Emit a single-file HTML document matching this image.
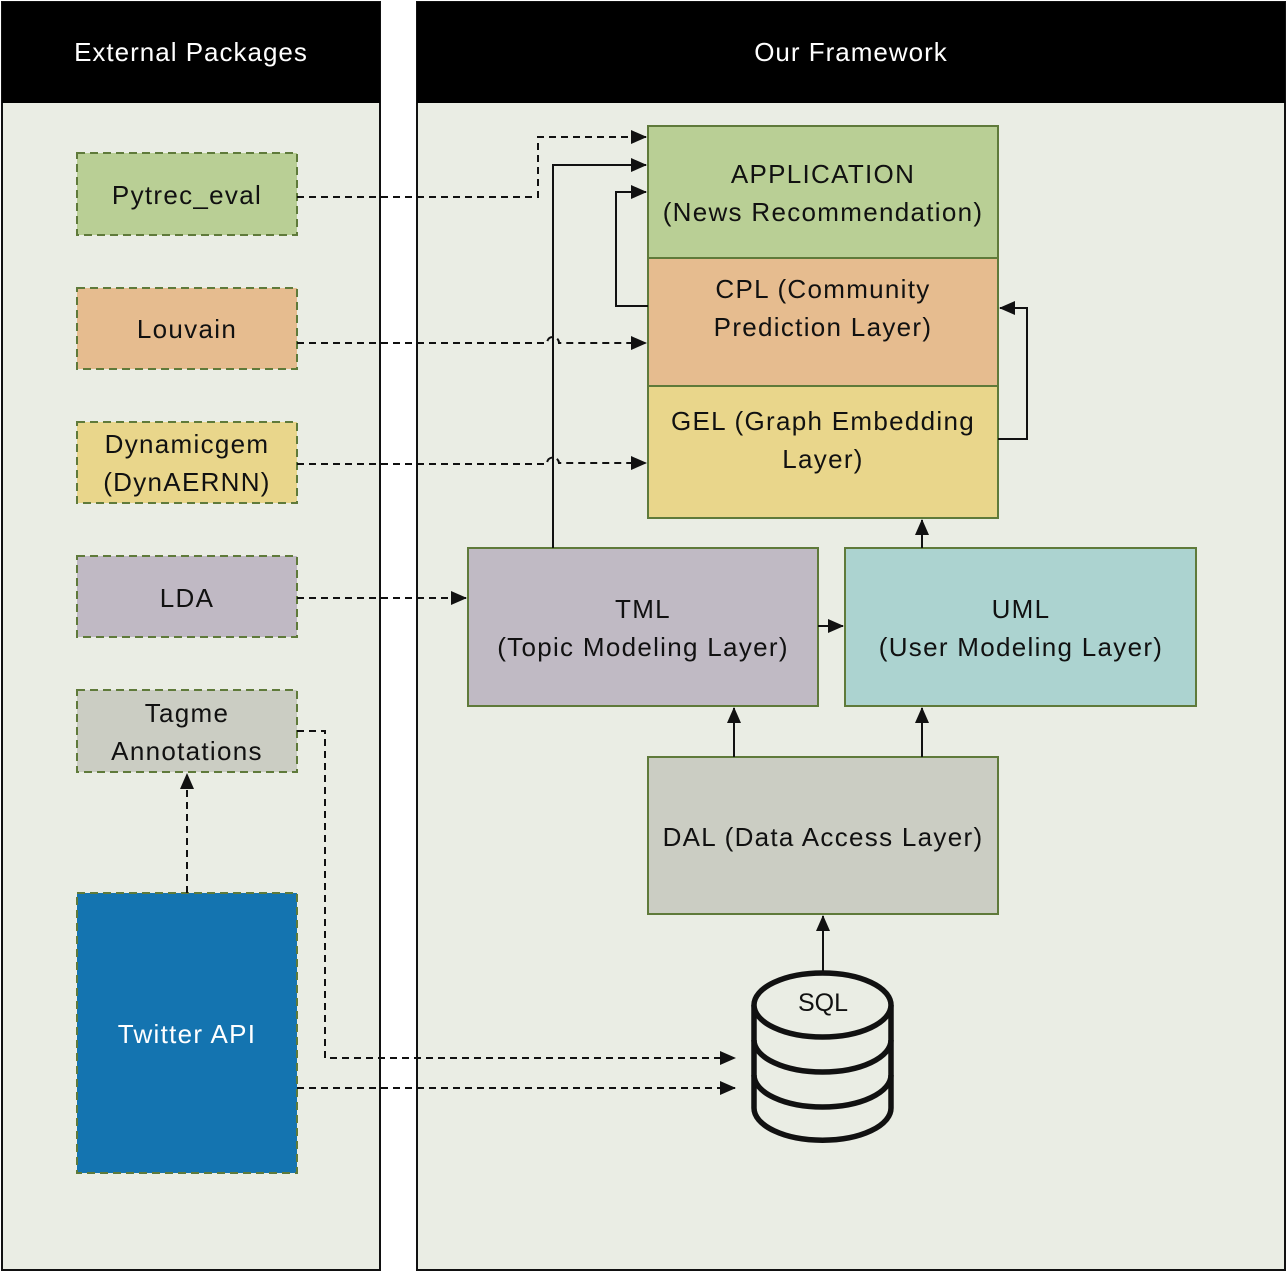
<!DOCTYPE html>
<html><head><meta charset="utf-8"><style>
html,body{margin:0;padding:0;background:#fff}
svg{display:block}
text{font-family:"Liberation Sans",sans-serif;fill:#111}
</style></head><body>
<svg width="1287" height="1272" viewBox="0 0 1287 1272" xmlns="http://www.w3.org/2000/svg">
<defs>
<marker id="b" markerWidth="16" markerHeight="14" refX="15" refY="7" orient="auto" markerUnits="userSpaceOnUse" viewBox="0 0 16 14"><path d="M0,0L16,7L0,14z" fill="#111"/></marker>
</defs>
<rect x="2" y="2" width="378" height="1268" fill="#eaede4" stroke="#111" stroke-width="2"/>
<rect x="2" y="2" width="378" height="101" fill="#000"/>
<rect x="417" y="2" width="868" height="1268" fill="#eaede4" stroke="#111" stroke-width="2"/>
<rect x="417" y="2" width="868" height="101" fill="#000"/>
<text x="191" y="61" text-anchor="middle" font-size="26" letter-spacing="1" style="fill:#fff">External Packages</text>
<text x="851" y="61" text-anchor="middle" font-size="26" letter-spacing="1" style="fill:#fff">Our Framework</text>

<g stroke="#5f7a3a" stroke-width="2" stroke-dasharray="8,5">
<rect x="77" y="153" width="220" height="82" fill="#b9cf95"/>
<rect x="77" y="288" width="220" height="81" fill="#e6bc8f"/>
<rect x="77" y="422" width="220" height="81" fill="#e9d68b"/>
<rect x="77" y="556" width="220" height="81" fill="#c0b9c4"/>
<rect x="77" y="690" width="220" height="82" fill="#cbcdc3"/>
<rect x="77" y="893" width="220" height="280" fill="#1474b0"/>
</g>
<g font-size="26" letter-spacing="1.3" text-anchor="middle">
<text x="187" y="204">Pytrec_eval</text>
<text x="187" y="338">Louvain</text>
<text x="187" y="453">Dynamicgem</text>
<text x="187" y="491">(DynAERNN)</text>
<text x="187" y="607">LDA</text>
<text x="187" y="722">Tagme</text>
<text x="187" y="760">Annotations</text>
<text x="187" y="1043" style="fill:#fff">Twitter API</text>
</g>

<g stroke="#5f7a3a" stroke-width="2">
<rect x="648" y="126" width="350" height="132" fill="#b9cf95"/>
<rect x="648" y="258" width="350" height="128" fill="#e6bc8f"/>
<rect x="648" y="386" width="350" height="132" fill="#e9d68b"/>
<rect x="468" y="548" width="350" height="158" fill="#c0bac4"/>
<rect x="845" y="548" width="351" height="158" fill="#acd3d0"/>
<rect x="648" y="757" width="350" height="157" fill="#cbcdc3"/>
</g>
<g font-size="26" letter-spacing="1.3" text-anchor="middle">
<text x="823" y="183">APPLICATION</text>
<text x="823" y="221">(News Recommendation)</text>
<text x="823" y="298">CPL (Community</text>
<text x="823" y="336">Prediction Layer)</text>
<text x="823" y="430">GEL (Graph Embedding</text>
<text x="823" y="468">Layer)</text>
<text x="643" y="618">TML</text>
<text x="643" y="656">(Topic Modeling Layer)</text>
<text x="1021" y="618">UML</text>
<text x="1021" y="656">(User Modeling Layer)</text>
<text x="823" y="846">DAL (Data Access Layer)</text>
</g>

<g fill="none" stroke="#111" stroke-width="2">
<g stroke-dasharray="7,5">
<path d="M297,197H538V137H646" marker-end="url(#b)"/>
<path d="M297,343H547A6,6 0 0 1 559,343H646" marker-end="url(#b)"/>
<path d="M297,464H547A6,6 0 0 1 559,463H646" marker-end="url(#b)"/>
<path d="M297,598H466" marker-end="url(#b)"/>
<path d="M187,893V774" marker-end="url(#b)"/>
<path d="M297,731H325V1058H735" marker-end="url(#b)"/>
<path d="M297,1088H735" marker-end="url(#b)"/>
</g>
<path d="M553,548V165H646" marker-end="url(#b)"/>
<path d="M648,306H616V192H646" marker-end="url(#b)"/>
<path d="M998,439H1027V308H1000" marker-end="url(#b)"/>
<path d="M818,626H843" marker-end="url(#b)"/>
<path d="M922,548V520" marker-end="url(#b)"/>
<path d="M734,757V708" marker-end="url(#b)"/>
<path d="M922,757V708" marker-end="url(#b)"/>
<path d="M823,973V916" marker-end="url(#b)"/>
</g>

<g fill="none" stroke="#111" stroke-width="5.5">
<path d="M754,1005V1108A68,32 0 0 0 891,1108V1005"/>
<ellipse cx="822.5" cy="1005" rx="68.5" ry="32" fill="#eaede4"/>
<path d="M754,1040A68.5,32 0 0 0 891,1040"/>
<path d="M754,1075A68.5,32 0 0 0 891,1075"/>
</g>
<text x="823" y="1011" text-anchor="middle" font-size="25">SQL</text>
</svg>
</body></html>
